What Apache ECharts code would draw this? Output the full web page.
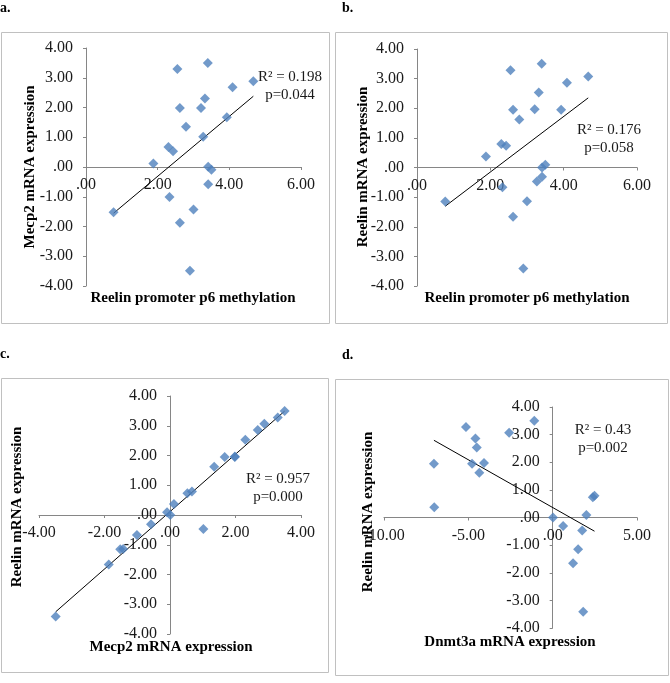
<!DOCTYPE html>
<html>
<head>
<meta charset="utf-8">
<script src="https://cdn.jsdelivr.net/npm/echarts@6/dist/echarts.min.js"></script>
<style>
  html, body { margin: 0; padding: 0; background: #fff; }
  #chart { width: 670px; height: 683px; }
</style>
</head>
<body>
<div id="chart"></div>
<script>
// per-subject values (null = no point shown)
const methylation = [0.77, 1.88, 2.30, 2.43, 2.33, 2.55, 2.62, 2.62, 2.79, 2.90, 3.00, 3.21, 3.27, 3.32, 3.40, 3.41, 3.50, 3.41, 3.93, 4.09, 4.67];
const mecp2 = [-1.52, 0.12, 0.67, 0.53, -1.01, 3.29, 1.98, -1.87, 1.35, -3.49, -1.43, 1.98, 1.02, 2.30, 3.50, 0.01, -0.09, -0.58, 1.67, 2.68, 2.88];
const reelin = [-1.15, 0.37, 0.79, 0.73, -0.67, 3.28, 1.95, -1.66, 1.62, -3.41, -1.14, 1.97, -0.47, 2.53, 3.50, 0.00, 0.09, -0.31, 1.95, 2.86, 3.07];
const dnmt3a = [1.51, -7.02, 2.48, 2.38, null, -5.14, -7.04, 1.21, -4.35, 1.81, null, -4.07, 1.75, -4.50, -1.09, 0.02, 2.00, 0.62, -4.78, -4.58, -2.58];

const panelLetters = ['a.', 'b.', 'c.', 'd.'];
const xTitles = ['Reelin promoter p6 methylation', 'Reelin promoter p6 methylation', 'Mecp2 mRNA expression', 'Dnmt3a mRNA expression'];
const yTitles = ['Mecp2 mRNA expression', 'Reelin mRNA expression', 'Reelin mRNA expression', 'Reelin mRNA expression'];
const statR2 = ['R\u00b2 = 0.198', 'R\u00b2 = 0.176', 'R\u00b2 = 0.957', 'R\u00b2 = 0.43'];
const statP = ['p=0.044', 'p=0.058', 'p=0.000', 'p=0.002'];
const xRanges = [[0, 6, 2], [0, 6, 2], [-4, 4, 2], [-10, 5, 5]];
const yRanges = [[-4, 4, 1], [-4, 4, 1], [-4, 4, 1], [-4, 4, 1]];

const pairs = [[methylation, mecp2], [methylation, reelin], [mecp2, reelin], [dnmt3a, reelin]];

function toPoints(xs, ys) {
  const pts = [];
  xs.forEach((x, i) => {
    if (x != null && ys[i] != null) pts.push([x, ys[i]]);
  });
  return pts;
}

// least squares line over the data's x range (like the excel trendline)
function trend(pts) {
  const n = pts.length;
  let sx = 0, sy = 0, sxx = 0, sxy = 0;
  pts.forEach(p => { sx += p[0]; sy += p[1]; sxx += p[0] * p[0]; sxy += p[0] * p[1]; });
  const b = (n * sxy - sx * sy) / (n * sxx - sx * sx);
  const a = (sy - b * sx) / n;
  const xs = pts.map(p => p[0]);
  const lo = Math.min(...xs), hi = Math.max(...xs);
  return [[lo, a + b * lo], [hi, a + b * hi]];
}

const fmt = v => (v === 0 ? '.00' : v.toFixed(2));
const serif = 'Liberation Serif';

const grids = [
  { left: 86, top: 48, width: 215, height: 238 },
  { left: 417, top: 49, width: 220, height: 237 },
  { left: 39, top: 396, width: 262, height: 238 },
  { left: 384, top: 407, width: 253, height: 221 }
];
const boxes = [
  { x: 1, y: 32, w: 328, h: 291 },
  { x: 335, y: 32, w: 332, h: 291 },
  { x: 1, y: 378, w: 327, h: 294 },
  { x: 335, y: 379, w: 333, h: 296 }
];
const letterPos = [[0, 8], [342, 8], [0, 354], [342, 355]];
const xTitlePos = [[193, 298], [527, 298], [171, 647], [510, 642]];
const yTitlePos = [[30, 167], [363, 167], [17, 507], [368, 512]];
const statPos = [[290, 86], [609, 139], [278, 488], [603, 439]];

const lineStyle = { color: '#868686', width: 1 };
const labelStyle = { formatter: fmt, color: '#1a1a1a', fontFamily: serif, fontSize: 16 };

// axes cross at zero: shift each axis line from the grid edge to the other axis's 0
const xAxis = xRanges.map((r, i) => ({
  type: 'value', gridIndex: i, min: r[0], max: r[1], interval: r[2],
  offset: -grids[i].height * (0 - yRanges[i][0]) / (yRanges[i][1] - yRanges[i][0]),
  axisLine: { onZero: false, lineStyle: lineStyle },
  axisTick: { show: true, length: 3, lineStyle: lineStyle },
  splitLine: { show: false },
  axisLabel: Object.assign({ margin: 10 }, labelStyle)
}));
const yAxis = yRanges.map((r, i) => ({
  type: 'value', gridIndex: i, min: r[0], max: r[1], interval: r[2],
  offset: -grids[i].width * (0 - xRanges[i][0]) / (xRanges[i][1] - xRanges[i][0]),
  axisLine: { onZero: false, lineStyle: lineStyle },
  axisTick: { show: true, length: 3, lineStyle: lineStyle },
  splitLine: { show: false },
  axisLabel: Object.assign({ margin: 13 }, labelStyle)
}));

const series = [];
pairs.forEach((p, i) => {
  const pts = toPoints(p[0], p[1]);
  series.push({
    type: 'line', xAxisIndex: i, yAxisIndex: i, data: trend(pts),
    symbol: 'none', lineStyle: { color: '#000', width: 1 }, silent: true, z: 1
  });
  series.push({
    type: 'scatter', xAxisIndex: i, yAxisIndex: i, data: pts,
    symbol: 'diamond', symbolSize: 10, itemStyle: { color: '#4F81BD' }, z: 2
  });
});

const graphic = [];
boxes.forEach(b => {
  graphic.push({ type: 'rect', shape: { x: b.x + 0.5, y: b.y + 0.5, width: b.w, height: b.h },
    style: { fill: 'none', stroke: '#c0c0c0', lineWidth: 1 }, z: -1 });
});
panelLetters.forEach((t, i) => {
  graphic.push({ type: 'text', x: letterPos[i][0], y: letterPos[i][1],
    style: { text: t, font: 'bold 14px ' + serif, fill: '#000', verticalAlign: 'middle' } });
});
xTitles.forEach((t, i) => {
  graphic.push({ type: 'text', x: xTitlePos[i][0], y: xTitlePos[i][1],
    style: { text: t, font: 'bold 15px ' + serif, fill: '#000', align: 'center', verticalAlign: 'middle' } });
});
yTitles.forEach((t, i) => {
  graphic.push({ type: 'text', x: yTitlePos[i][0], y: yTitlePos[i][1], rotation: Math.PI / 2,
    style: { text: t, font: 'bold 15px ' + serif, fill: '#000', align: 'center', verticalAlign: 'middle' } });
});
statR2.forEach((t, i) => {
  graphic.push({ type: 'text', x: statPos[i][0], y: statPos[i][1],
    style: { text: t + '\n' + statP[i], font: '15px ' + serif, fill: '#1a1a1a', align: 'center',
      verticalAlign: 'middle', lineHeight: 18 } });
});

const myChart = echarts.init(document.getElementById('chart'));
myChart.setOption({
  animation: false,
  grid: grids.map(g => Object.assign({ containLabel: false, outerBoundsMode: 'none' }, g)),
  xAxis: xAxis,
  yAxis: yAxis,
  series: series,
  graphic: graphic
});
</script>
</body>
</html>
